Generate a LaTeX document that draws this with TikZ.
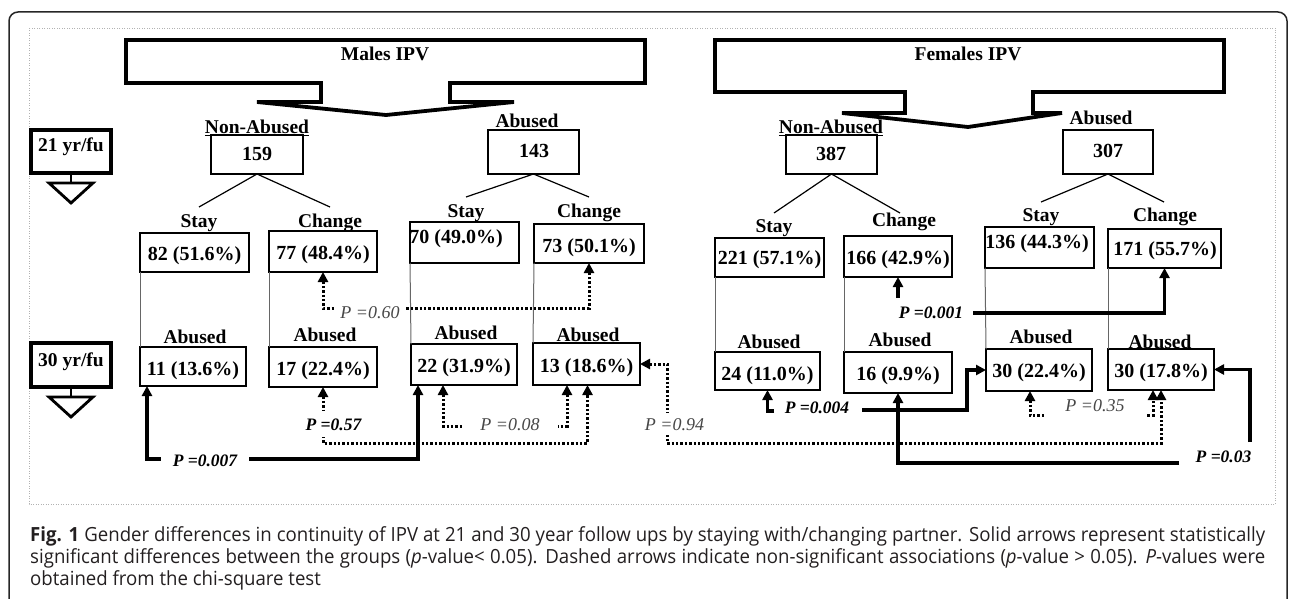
\documentclass[tikz,border=0pt]{standalone}
\usepackage{fontspec}
\setmainfont{Liberation Serif}
\newfontfamily\capfont[FakeStretch=0.955]{Open Sans}
\usetikzlibrary{arrows.meta,calc}
\definecolor{capcol}{HTML}{231F20}
\begin{document}
\begin{tikzpicture}[x=1pt,y=-1pt,
  bx/.style={draw=black, line width=1.8pt, inner sep=0pt, outer sep=0pt},
  yrbox/.style={draw=black, line width=3.8pt, inner sep=0pt, outer sep=0pt},
  num/.style={anchor=base, inner sep=0pt, font=\fontsize{20}{24}\selectfont\bfseries},
  lbl/.style={anchor=base, inner sep=0pt, font=\fontsize{19.5}{24}\selectfont\bfseries},
  pb/.style={anchor=base, inner sep=0pt, font=\fontsize{17.5}{20}\selectfont\bfseries\itshape},
  pn/.style={anchor=base, inner sep=0pt, text=black!72, font=\fontsize{18}{20}\selectfont\itshape},
  solarr/.style={draw=black, line width=3.2pt, >={Triangle[width=10pt,length=10pt]}},
  dotarr/.style={draw=black, line width=3pt, dash pattern=on 2.4pt off 2pt, >={Triangle[width=10pt,length=10pt]}},
  link/.style={draw=black!60, line width=1pt},
  tree/.style={draw=black, line width=1.2pt},
  big/.style={draw=black, line width=3.8pt, line join=miter, miter limit=3},
  capline/.style={anchor=base west, inner sep=0pt, text=capcol, font=\fontsize{19.5}{22}\capfont},
]
\useasboundingbox (0,0) rectangle (1292,599);
\clip (0,0) rectangle (1292,599);
% frames
\draw[black!85, line width=1.5pt, rounded corners=9pt] (9,12) rectangle (1287,650);
\draw[black!30, line width=0.8pt, dash pattern=on 1pt off 1.5pt] (29,28) rectangle (1275,504);

% big header shapes
\draw[big] (126,40) -- (645,40) -- (645,83) -- (450,83) -- (450,102) -- (514,102) -- (386,115) -- (257,102) -- (321,102) -- (321,83) -- (126,83) -- cycle;
\node[lbl] (mtitle) at (385,60.5) {Males IPV};
\draw[big] (715,40) -- (1224,40) -- (1224,92) -- (1033,92) -- (1033,113) -- (1062,113) -- (968,127) -- (842,113) -- (905,113) -- (905,92) -- (715,92) -- cycle;
\node[lbl] (ftitle) at (968,60.5) {Females IPV};

% follow-up markers
\node[yrbox, minimum width=80pt, minimum height=43pt] (y21) at (71,151.5) {};
\node[lbl] (y21t) at (71,151.5) {21 yr/fu};
\draw[line width=2.8pt] (y21.south) -- ++(0,10);
\draw[line width=2.8pt, line join=miter] (49,183) -- (93,183) -- (71,203) -- cycle;
\node[yrbox, minimum width=80pt, minimum height=44pt] (y30) at (71,365) {};
\node[lbl] (y30t) at (71,366.5) {30 yr/fu};
\draw[line width=2.8pt] (y30.south) -- ++(0,10);
\draw[line width=2.8pt, line join=miter] (49,397) -- (93,397) -- (71,417) -- cycle;

% ===== Males =====
\node[lbl] (mnal) at (257,133.5) {\underline{Non-Abused}};
\node[bx, minimum width=92pt, minimum height=39pt] (m159) at (257,154.5) {};
\node[num] (m159t) at (257,160.5) {159};
\node[lbl] (mal) at (527,127.5) {Abused};
\node[bx, minimum width=91pt, minimum height=44pt] (m143) at (533.5,152) {};
\node[num] (m143t) at (534,157.5) {143};

\coordinate (ms1) at (199,207); \coordinate (mc1) at (330,207);
\coordinate (ms2) at (466,197); \coordinate (mc2) at (589,197);
\draw[tree] (ms1) -- (m159.south) -- (mc1);
\draw[tree] (ms2) -- (m143.south) -- (mc2);

\node[lbl] (msl1) at (199,227.5) {Stay};
\node[lbl] (mcl1) at (330,227.5) {Change};
\node[lbl] (msl2) at (466,217.5) {Stay};
\node[lbl] (mcl2) at (589,217.5) {Change};

\node[bx, minimum width=109pt, minimum height=39pt] (m82) at (194.5,252.5) {};
\node[num] (m82t) at (194.5,260) {82 (51.6\%)};
\node[bx, minimum width=108pt, minimum height=41pt] (m77) at (323,251.5) {};
\node[num] (m77t) at (323,259) {77 (48.4\%)};
\node[bx, minimum width=109pt, minimum height=41pt] (m70) at (464.5,242.5) {};
\node[num] (m70t) at (456,243.5) {70 (49.0\%)};
\node[bx, minimum width=110pt, minimum height=39pt] (m73) at (589,243.5) {};
\node[num] (m73t) at (589,252.5) {73 (50.1\%)};

\node[lbl] (mab1) at (195,343.5) {Abused};
\node[lbl] (mab2) at (325,341.5) {Abused};
\node[lbl] (mab3) at (466,339.5) {Abused};
\node[lbl] (mab4) at (588,341.5) {Abused};

\node[bx, minimum width=106pt, minimum height=39pt] (m11) at (193,366.5) {};
\node[num] (m11t) at (193,375) {11 (13.6\%)};
\node[bx, minimum width=108pt, minimum height=40pt] (m17) at (323,367) {};
\node[num] (m17t) at (323,375) {17 (22.4\%)};
\node[bx, minimum width=106pt, minimum height=41pt] (m22) at (464,364.5) {};
\node[num] (m22t) at (464,372.5) {22 (31.9\%)};
\node[bx, minimum width=107pt, minimum height=42pt] (m13) at (586.5,364) {};
\node[num] (m13t) at (586.5,372.5) {13 (18.6\%)};

\draw[link] (m82.south west) -- (m11.north west);
\draw[link] (m77.south west) -- (m17.north west);
\draw[link] (m70.south west) -- (m22.north west);
\draw[link] (m73.south west) -- (m13.north west);

% ===== Females =====
\node[lbl] (fnal) at (831,133.5) {\underline{Non-Abused}};
\node[bx, minimum width=91pt, minimum height=39pt] (f387) at (831.5,154.5) {};
\node[num] (f387t) at (831,160.5) {387};
\node[lbl] (fal) at (1101,124.5) {Abused};
\node[bx, minimum width=90pt, minimum height=44pt] (f307) at (1108,152) {};
\node[num] (f307t) at (1108,157.5) {307};

\coordinate (fs1) at (774,213); \coordinate (fc1) at (900,213);
\coordinate (fs2) at (1041,202); \coordinate (fc2) at (1164,202);
\draw[tree] (fs1) -- (f387.south) -- (fc1);
\draw[tree] (fs2) -- (f307.south) -- (fc2);

\node[lbl] (fsl1) at (774,232.5) {Stay};
\node[lbl] (fcl1) at (904,226.5) {Change};
\node[lbl] (fsl2) at (1041,221.5) {Stay};
\node[lbl] (fcl2) at (1165,221.5) {Change};

\node[bx, minimum width=109pt, minimum height=39pt] (f221) at (769.5,257.5) {};
\node[num] (f221t) at (769.5,264) {221 (57.1\%)};
\node[bx, minimum width=108pt, minimum height=41pt] (f166) at (898,256.5) {};
\node[num] (f166t) at (898,264) {166 (42.9\%)};
\node[bx, minimum width=109pt, minimum height=41pt] (f136) at (1039.5,247.5) {};
\node[num] (f136t) at (1037,248.5) {136 (44.3\%)};
\node[bx, minimum width=113pt, minimum height=39pt] (f171) at (1164.5,248.5) {};
\node[num] (f171t) at (1165,255.5) {171 (55.7\%)};

\node[lbl] (fab1) at (769,348.5) {Abused};
\node[lbl] (fab2) at (900,346.5) {Abused};
\node[lbl] (fab3) at (1041,343.5) {Abused};
\node[lbl] (fab4) at (1160,348.5) {Abused};

\node[bx, minimum width=105pt, minimum height=38pt] (f24) at (767.5,371) {};
\node[num] (f24t) at (767.5,380.5) {24 (11.0\%)};
\node[bx, minimum width=108pt, minimum height=41pt] (f16) at (898,372.5) {};
\node[num] (f16t) at (898,380.5) {16 (9.9\%)};
\node[bx, minimum width=106pt, minimum height=42pt] (f30a) at (1039,370) {};
\node[num] (f30at) at (1039,377) {30 (22.4\%)};
\node[bx, minimum width=106pt, minimum height=41pt] (f30b) at (1161,369.5) {};
\node[num] (f30bt) at (1161,377) {30 (17.8\%)};

\draw[link] (f221.south west) -- (f24.north west);
\draw[link] (f166.south west) -- (f16.north west);
\draw[link] (f136.south west) -- (f30a.north west);
\draw[link] (f171.south west) -- (f30b.north west);

% ===== Male comparisons =====
\draw[dotarr,<->] (m77.south) -- ++(0,36) -| (m73.south);
\node[pn, fill=white, inner xsep=4pt, inner ysep=2pt] (p060) at (370,318) {P =0.60};

\draw[solarr,<->] ($(m11.south west)+(7,0)$) -- ++(0,73) -| ($(m22.south west)+(7,0)$);
\node[pb, fill=white, inner xsep=12pt, inner ysep=3pt] (p0007) at (205,466) {P =0.007};

\draw[dotarr,<->] (m17.south) -- ++(0,56) -| ($(m13.south)+(1,0)$);
\node[pb, fill=white, inner xsep=2pt, inner ysep=7pt] (p057) at (333.5,430) {P =0.57};

\draw[dotarr,<->] ($(m22.south)+(-21,0)$) -- ++(0,41) -| ($(m13.south)+(-19.5,0)$);
\node[pn, fill=white, inner xsep=18pt, inner ysep=2pt] (p008) at (510,430) {P =0.08};

% ===== Cross comparison =====
\draw[dotarr,<->] (m13.east) -- ++(27,0) -- ++(0,79) -| (f30b.south);
\node[pn, fill=white, inner xsep=1pt, inner ysep=5pt] (p094) at (674.5,430) {P =0.94};

% ===== Female comparisons =====
\coordinate (s001) at (898,298);
\draw[solarr,->] (s001) -- (f166.south);
\node[pb] (p0001) at (931,318) {P =0.001};
\coordinate (e001) at (973,313);
\draw[solarr,->] (e001) -| (f171.south);

\coordinate (s004) at (774,411);
\draw[solarr,->] (s004) -| (f24.south);
\node[pb] (p0004) at (817,413) {P =0.004};
\coordinate (e004) at (862,410);
\draw[solarr,->] (e004) -- ++(105,0) |- (f30a.west);

\draw[dotarr,<->] ($(f30a.south)+(-9,0)$) -- ++(0,24) -| ($(f30b.south)+(-8,0)$);
\node[pn, fill=white, inner xsep=20pt, inner ysep=7pt] (p035) at (1095,411) {P =0.35};

\coordinate (s003) at (1250,442);
\draw[solarr,->] (s003) |- (f30b.east);
\node[pb] (p003) at (1223.5,462) {P =0.03};
\coordinate (e003) at (1179,463);
\draw[solarr,->] (e003) -| (f16.south);

% ===== Caption =====
\node[capline] (cap1) at (30,541.5) {\makebox[1235pt][s]{\textbf{Fig. 1} Gender differences in continuity of IPV at 21 and 30 year follow ups by staying with/changing partner. Solid arrows represent statistically}};
\node[capline] (cap2) at (30,563.5) {\makebox[1235pt][s]{significant differences between the groups (\textit{p}-value< 0.05). Dashed arrows indicate non-significant associations (\textit{p}-value > 0.05). \textit{P}-values were}};
\node[capline] (cap3) at (30,585.5) {obtained from the chi-square test};
\end{tikzpicture}
\end{document}
